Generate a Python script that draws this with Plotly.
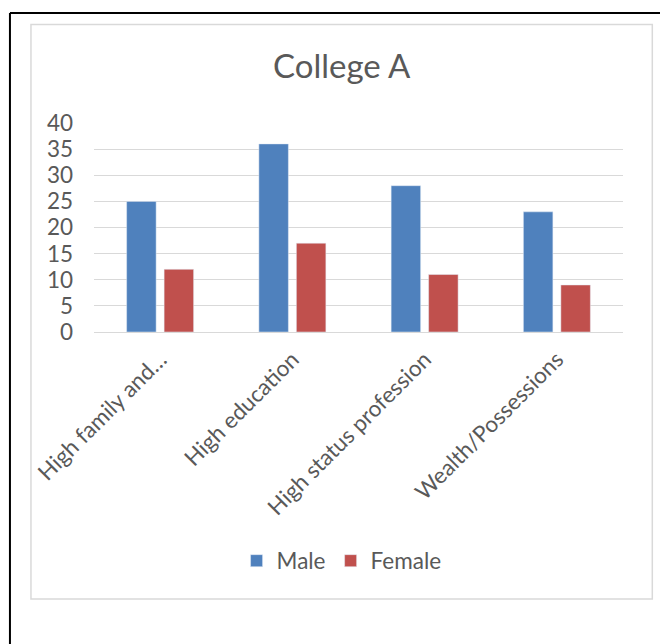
import plotly.graph_objects as go

categories = ["High family and…", "High education", "High status profession", "Wealth/Possessions"]
male = [25, 36, 28, 23]
female = [12, 17, 11, 9]
series_names = ["Male", "Female"]
y_ticks = [0, 5, 10, 15, 20, 25, 30, 35, 40]

W, H = 660, 644
L, R, T, B = 94, 660 - 622.7, 122.7, 644 - 332.3
pw, ph = W - L - R, H - T - B

def px(x):
    return (x - L) / pw

def py(y):
    return (H - B - y) / ph

FONT = "Lato"
TXT = "#595959"
FS = 22.5

fig = go.Figure()
fig.add_trace(go.Bar(x=categories, y=male, name=series_names[0], marker_color="#4F81BD"))
fig.add_trace(go.Bar(x=categories, y=female, name=series_names[1], marker_color="#C0504D"))

fig.update_layout(
    width=W, height=H,
    margin=dict(l=L, r=R, t=T, b=B, autoexpand=False),
    paper_bgcolor="white", plot_bgcolor="white",
    barmode="group", bargap=0.433, bargroupgap=0.213,
    font=dict(family=FONT, color=TXT, size=FS),
    title=dict(text="College A", x=341.7 / W, xanchor="center", xref="container",
               y=1 - 66 / H, yanchor="middle", yref="container",
               font=dict(family=FONT, size=33, color=TXT)),
    showlegend=True,
    legend=dict(orientation="h", x=0.468, xanchor="center", y=py(562), yanchor="middle",
                font=dict(family=FONT, size=FS, color=TXT), bgcolor="rgba(0,0,0,0)"),
    xaxis=dict(tickangle=-45, showgrid=False, showline=False, ticks="",
               ticklabelstandoff=9,
               tickfont=dict(family=FONT, size=FS, color=TXT), automargin=False),
    yaxis=dict(range=[0, 40], tickvals=y_ticks, showgrid=True, gridcolor="#D9D9D9", gridwidth=1,
               zeroline=True, zerolinecolor="#D9D9D9", zerolinewidth=1, showline=False,
               ticks="", ticklabelstandoff=20,
               tickfont=dict(family=FONT, size=FS, color=TXT), automargin=False),
    shapes=[
        dict(type="rect", xref="paper", yref="paper", x0=px(31), x1=px(652), y0=py(600), y1=py(24),
             line=dict(color="#D9D9D9", width=1.5), layer="below"),
        dict(type="line", xref="paper", yref="paper", x0=px(10), x1=px(662), y0=py(12.5), y1=py(12.5),
             line=dict(color="black", width=2)),
        dict(type="line", xref="paper", yref="paper", x0=px(10), x1=px(10), y0=py(12.5), y1=py(646),
             line=dict(color="black", width=2)),
    ],
)

fig.write_html("out.html")
